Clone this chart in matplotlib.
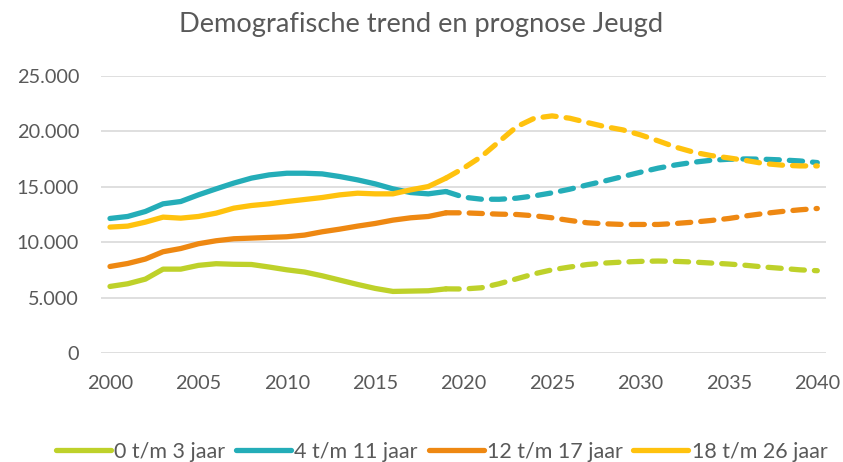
import matplotlib
matplotlib.use("Agg")
import matplotlib.pyplot as plt
import numpy as np

plt.rcParams["font.family"] = ["Lato", "DejaVu Sans"]

years = list(range(2000, 2041))
split_year = 2019  # historie t/m 2019, daarna prognose (gestippeld)

jong_0_3 = [6000, 6240, 6660, 7560, 7560, 7900, 8050, 8000, 7980, 7750,
            7500, 7300, 6960, 6570, 6180, 5820, 5550, 5580, 5610, 5780,
            5770, 5880, 6240, 6690, 7140, 7500, 7750, 7980, 8110, 8200,
            8260, 8290, 8260, 8200, 8110, 8020, 7900, 7750, 7630, 7500, 7420]
jong_4_11 = [12130, 12310, 12760, 13450, 13660, 14260, 14800, 15320, 15770, 16060,
             16210, 16210, 16150, 15910, 15610, 15250, 14800, 14470, 14350, 14560,
             14050, 13870, 13860, 13960, 14170, 14440, 14770, 15160, 15520, 15910,
             16300, 16670, 16960, 17200, 17380, 17470, 17500, 17470, 17410, 17320, 17170]
jong_12_17 = [7800, 8070, 8470, 9130, 9420, 9850, 10120, 10300, 10360, 10420,
              10480, 10630, 10930, 11170, 11440, 11680, 11980, 12190, 12310, 12640,
              12640, 12580, 12520, 12490, 12370, 12190, 11950, 11740, 11650, 11590,
              11590, 11590, 11680, 11800, 11950, 12130, 12370, 12580, 12760, 12910, 13030]
jong_18_26 = [11350, 11440, 11800, 12250, 12160, 12310, 12610, 13060, 13300, 13450,
              13660, 13840, 14020, 14260, 14410, 14350, 14350, 14710, 15010, 15770,
              16670, 17710, 19060, 20410, 21170, 21380, 21170, 20780, 20410, 20120,
              19670, 19130, 18560, 18110, 17800, 17590, 17350, 17080, 16940, 16870, 16870]

labels = ["0 t/m 3 jaar", "4 t/m 11 jaar", "12 t/m 17 jaar", "18 t/m 26 jaar"]
series = [jong_0_3, jong_4_11, jong_12_17, jong_18_26]
colors = ["#BED12A", "#24ADB8", "#EE8812", "#FFC20E"]

fig = plt.figure(figsize=(8.43, 4.62), dpi=100)
ax = fig.add_axes([0.12, 0.236, 0.86, 0.6])

yrs = np.array(years)
k = years.index(split_year)
handles = []
for vals, col, lab in zip(series, colors, labels):
    vals = np.array(vals)
    h, = ax.plot(yrs[:k + 1], vals[:k + 1], color=col, lw=3.8,
                 solid_capstyle="round", solid_joinstyle="round", label=lab)
    ax.plot(yrs[k:], vals[k:], color=col, lw=3.8, dashes=(2.5, 1.9),
            dash_capstyle="round", dash_joinstyle="round")
    handles.append(h)

ax.set_xlim(1999.5, 2040.5)
ax.set_ylim(0, 25000)
ax.set_xticks(range(2000, 2041, 5))
ax.set_yticks(range(0, 25001, 5000))
ax.set_yticklabels([f"{v:,}".replace(",", ".") for v in range(0, 25001, 5000)])
ax.grid(axis="y", color="#D9D9D9", lw=1.2)
ax.set_axisbelow(True)
for s in ax.spines.values():
    s.set_visible(False)
ax.tick_params(length=0, labelsize=14.3, colors="#595959")
ax.tick_params(axis="x", pad=16)
ax.tick_params(axis="y", pad=16)

fig.suptitle("Demografische trend en prognose Jeugd", y=0.975, fontsize=19.6,
             color="#595959")

fig.legend(handles=handles, labels=labels, loc="center", bbox_to_anchor=(0.524, 0.022),
           ncol=4, frameon=False, fontsize=15.5, handlelength=2.55, handletextpad=0.15,
           columnspacing=0.5, labelcolor="#595959")

fig.savefig("out.png", dpi=100)
